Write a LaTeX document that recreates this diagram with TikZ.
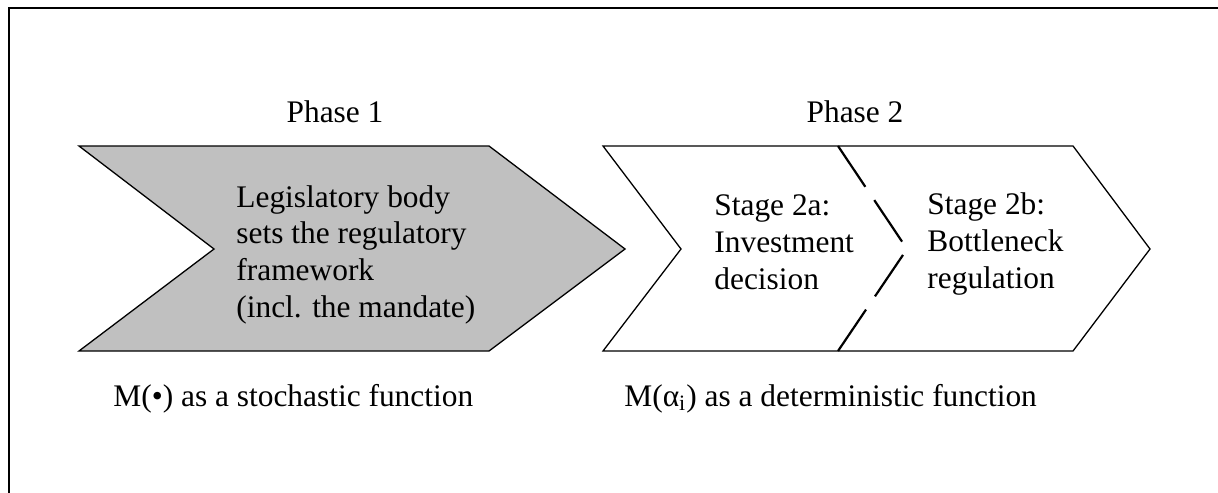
\documentclass[tikz,border=0pt]{standalone}
\usepackage{fontspec}
\setmainfont{Liberation Serif}
\usetikzlibrary{positioning}

\begin{document}
\begin{tikzpicture}[
  x=0.5pt, y=-0.5pt,
  % Outline of each phase arrow
  chevron/.style={draw, line width=0.65pt, line join=miter},
  % Dashed split between the two stages of phase 2
  split/.style={line width=1.1pt, dash pattern=on 25pt off 8pt},
  % Text as set in the figure
  txt/.style={font=\fontsize{15.7pt}{18.3pt}\selectfont, inner sep=0pt},
  % Multi-line texts, placed at the baseline of their last line
  body/.style={txt, align=left, anchor=base west},
]
  \useasboundingbox (0,0) rectangle (1218,492);
  \clip (0,0) rectangle (1218,492);

  % === Frame (runs off the right and bottom edges) ===
  \draw[line width=1pt] (9,8) rectangle (1240,520);

  % === Phase 1 arrow ===
  \filldraw[chevron, fill={rgb,255:red,192;green,192;blue,192}]
    (79,146) -- (489,146) -- (625,249) -- (489,351) -- (79,351)
    -- (214,249) -- cycle;

  % === Phase 2 arrow ===
  \filldraw[chevron, fill=white]
    (603,146) -- (1073,146) -- (1150,249) -- (1073,351) -- (603,351)
    -- (681,249) -- cycle;
  \coordinate (splitlo) at (838,351);
  \coordinate (splittip) at (907,249);
  \coordinate (splithi) at (838,146);
  \draw[split] (splitlo) -- (splittip) -- (splithi);

  % === Headings ===
  \node[txt, anchor=base] (phaseA) at (335,122) {Phase 1};
  \node[txt, anchor=base] (phaseB) at (855,122) {Phase 2};

  % === Texts in the arrows ===
  \node[body] (legis) at (236,317)
    {Legislatory body\\sets the regulatory\\framework\\(incl. the mandate)};
  \node[body] (stageA) at (714,289) {Stage 2a:\\Investment\\decision};
  \node[body] (stageB) at (927,288) {Stage 2b:\\Bottleneck\\regulation};

  % === Captions below ===
  \node[txt, anchor=base west] (stoch) at (113,406)
    {M(•) as a stochastic function};
  \node[txt, anchor=base west] (determ) at (624,406)
    {M(α\textsubscript{i}) as a deterministic function};
\end{tikzpicture}
\end{document}
